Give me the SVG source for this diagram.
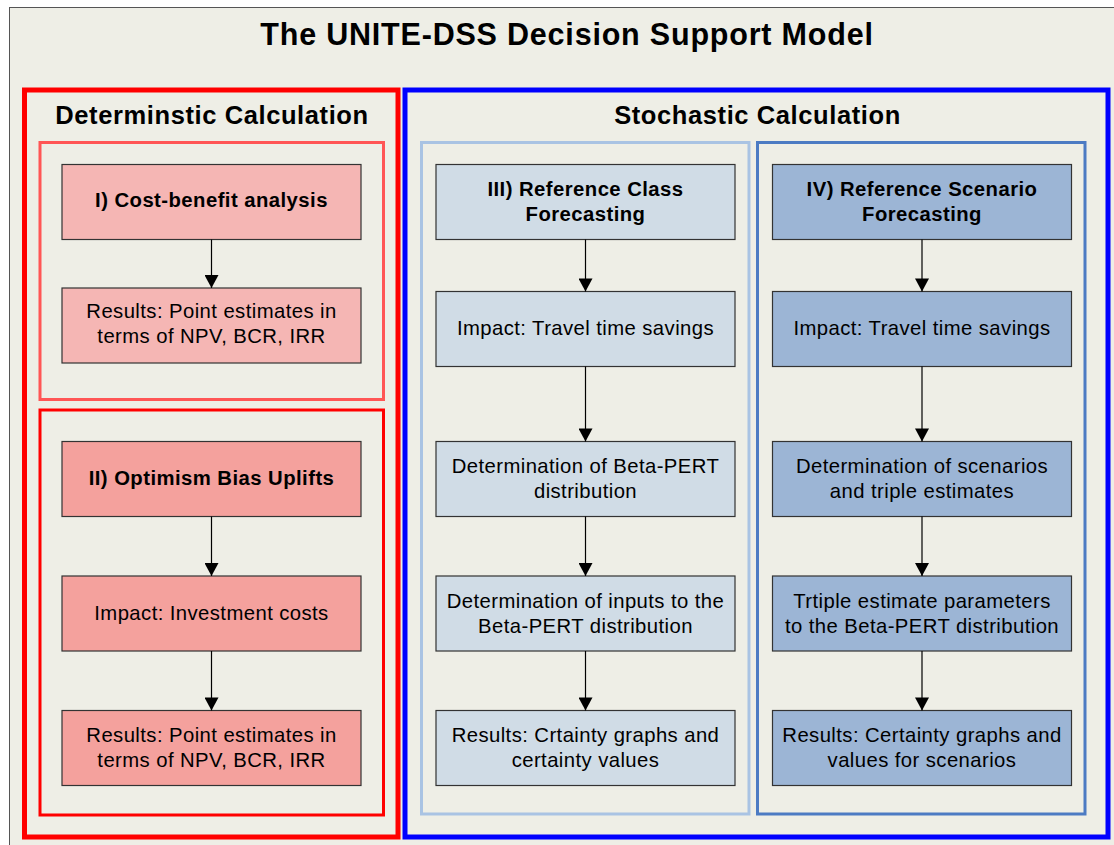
<svg xmlns="http://www.w3.org/2000/svg" width="1114" height="845" viewBox="0 0 1114 845">
<defs>
<marker id="ah" markerUnits="userSpaceOnUse" markerWidth="14" markerHeight="14" viewBox="0 0 12 13" refX="12" refY="6.5" orient="auto">
<path d="M0,0 L12,6.5 L0,13 Z" fill="#000"/>
</marker>
<style>
text{font-family:"Liberation Sans",Arial,sans-serif;fill:#000;text-anchor:middle}
.t{font-size:30.5px;font-weight:bold;letter-spacing:0.8px}
.h{font-size:25.5px;font-weight:bold;letter-spacing:0.6px}
.b{font-size:20.3px;font-weight:bold;letter-spacing:0.45px}
.n{font-size:20.3px;letter-spacing:0.42px}
.box{stroke:#333;stroke-width:1.2}
.r1{fill:#F5B6B4}
.r2{fill:#F4A19D}
.c3{fill:#D0DCE6}
.c4{fill:#9CB5D5}
.conn line{stroke:#000;stroke-width:1.2;marker-end:url(#ah)}
</style>
</defs>
<rect x="0" y="0" width="1114" height="845" fill="#fff"/>
<rect x="9.5" y="7.5" width="1115" height="850" fill="#EEEEE6" stroke="#555" stroke-width="1"/>
<text class="t" x="567" y="45">The UNITE-DSS Decision Support Model</text>

<g id="deterministic">
<rect x="24.5" y="90" width="373.5" height="747" fill="none" stroke="#FF0000" stroke-width="5"/>
<text class="h" x="212" y="124">Determinstic Calculation</text>
<rect x="40" y="142.5" width="343.5" height="257" fill="none" stroke="#FF5555" stroke-width="3"/>
<rect x="40" y="410" width="343.5" height="405" fill="none" stroke="#FF0000" stroke-width="3"/>
</g>
<g id="stochastic">
<rect x="405" y="90" width="703" height="747" fill="none" stroke="#0000FF" stroke-width="5"/>
<text class="h" x="757.5" y="124">Stochastic Calculation</text>
<rect x="421.5" y="142.5" width="327.5" height="671.5" fill="none" stroke="#A9C3E3" stroke-width="3"/>
<rect x="757.5" y="142.5" width="327.5" height="671.5" fill="none" stroke="#4C7BC3" stroke-width="3"/>
</g>

<g id="n1"><rect class="box r1" x="62" y="164.5" width="299" height="75"/><text class="b" x="211.5" y="207">I) Cost-benefit analysis</text></g>
<g id="n2"><rect class="box r1" x="62" y="288" width="299" height="75"/><text class="n" x="211.5" y="318">Results: Point estimates in</text><text class="n" x="211.5" y="343">terms of NPV, BCR, IRR</text></g>
<g id="n3"><rect class="box r2" x="62" y="441.5" width="299" height="75"/><text class="b" x="211.5" y="485">II) Optimism Bias Uplifts</text></g>
<g id="n4"><rect class="box r2" x="62" y="576" width="299" height="75"/><text class="n" x="211.5" y="620">Impact: Investment costs</text></g>
<g id="n5"><rect class="box r2" x="62" y="710.5" width="299" height="75"/><text class="n" x="211.5" y="742">Results: Point estimates in</text><text class="n" x="211.5" y="767">terms of NPV, BCR, IRR</text></g>

<g id="n6"><rect class="box c3" x="436" y="164.5" width="299" height="75"/><text class="b" x="585.5" y="196">III) Reference Class</text><text class="b" x="585.5" y="221">Forecasting</text></g>
<g id="n7"><rect class="box c3" x="436" y="291.5" width="299" height="75"/><text class="n" x="585.5" y="335">Impact: Travel time savings</text></g>
<g id="n8"><rect class="box c3" x="436" y="441.5" width="299" height="75"/><text class="n" x="585.5" y="473">Determination of Beta-PERT</text><text class="n" x="585.5" y="498">distribution</text></g>
<g id="n9"><rect class="box c3" x="436" y="576" width="299" height="75"/><text class="n" x="585.5" y="608">Determination of inputs to the</text><text class="n" x="585.5" y="633">Beta-PERT distribution</text></g>
<g id="n10"><rect class="box c3" x="436" y="710.5" width="299" height="75"/><text class="n" x="585.5" y="742">Results: Crtainty graphs and</text><text class="n" x="585.5" y="767">certainty values</text></g>

<g id="n11"><rect class="box c4" x="772.5" y="164.5" width="299" height="75"/><text class="b" x="922" y="196">IV) Reference Scenario</text><text class="b" x="922" y="221">Forecasting</text></g>
<g id="n12"><rect class="box c4" x="772.5" y="291.5" width="299" height="75"/><text class="n" x="922" y="335">Impact: Travel time savings</text></g>
<g id="n13"><rect class="box c4" x="772.5" y="441.5" width="299" height="75"/><text class="n" x="922" y="473">Determination of scenarios</text><text class="n" x="922" y="498">and triple estimates</text></g>
<g id="n14"><rect class="box c4" x="772.5" y="576" width="299" height="75"/><text class="n" x="922" y="608">Trtiple estimate parameters</text><text class="n" x="922" y="633">to the Beta-PERT distribution</text></g>
<g id="n15"><rect class="box c4" x="772.5" y="710.5" width="299" height="75"/><text class="n" x="922" y="742">Results: Certainty graphs and</text><text class="n" x="922" y="767">values for scenarios</text></g>

<g id="connectors" class="conn">
<line x1="211.5" y1="239.5" x2="211.5" y2="288"/>
<line x1="211.5" y1="516.5" x2="211.5" y2="576"/>
<line x1="211.5" y1="651" x2="211.5" y2="710.5"/>
<line x1="585.5" y1="239.5" x2="585.5" y2="291.5"/>
<line x1="585.5" y1="366.5" x2="585.5" y2="441.5"/>
<line x1="585.5" y1="516.5" x2="585.5" y2="576"/>
<line x1="585.5" y1="651" x2="585.5" y2="710.5"/>
<line x1="922" y1="239.5" x2="922" y2="291.5"/>
<line x1="922" y1="366.5" x2="922" y2="441.5"/>
<line x1="922" y1="516.5" x2="922" y2="576"/>
<line x1="922" y1="651" x2="922" y2="710.5"/>
</g>
</svg>
